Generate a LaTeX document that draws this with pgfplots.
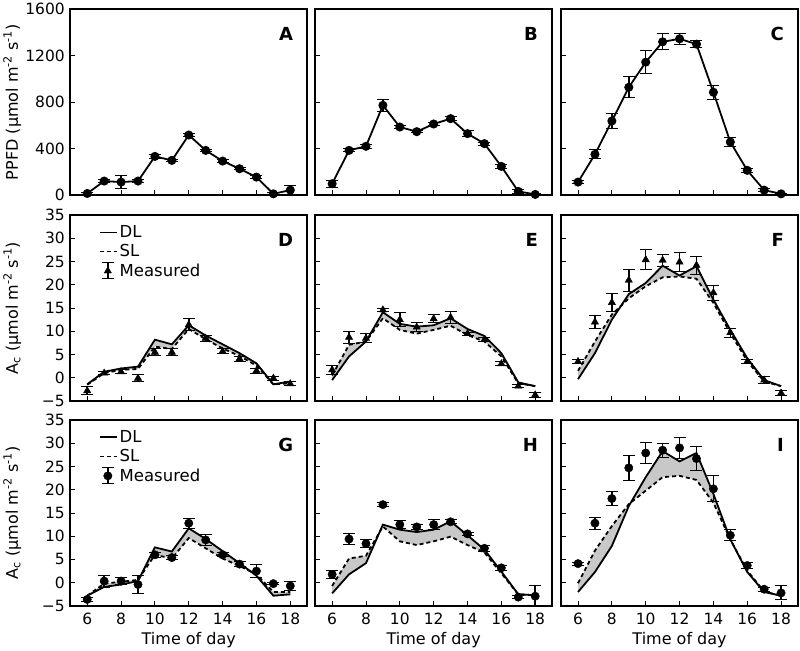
\documentclass[border=0pt]{standalone}
\usepackage{fontspec}
\setmainfont{DejaVu Sans}
\usepackage{pgfplots}
\pgfplotsset{compat=1.18}
\definecolor{fillgray}{RGB}{200,200,200}

\pgfplotsset{
  panel/.style={width=237pt,height=186pt,scale only axis,
    xmin=5,xmax=19,xtick={6,8,...,18},xticklabels={},
    tick align=inside,xtick pos=left,ytick pos=left,
    axis line style={line width=1.8pt},major tick length=5pt,
    every tick/.style={black,line width=0.9pt},
    tick label style={font=\fontsize{15.5}{16}\selectfont},
    xticklabel style={yshift=-4pt},yticklabel style={xshift=-2pt},
    label style={font=\fontsize{16}{17}\selectfont},
    ylabel style={at={(axis description cs:-0.245,0.5)},anchor=center}},
  ppfd/.style={panel,ymin=0,ymax=1600,ytick={0,400,...,1600},yticklabels={}},
  ac/.style={panel,ymin=-5,ymax=35,ytick={-5,0,...,35},yticklabels={}},
  acl/.style={yticklabels={−5,0,5,10,15,20,25,30,35}},
  bottomrow/.style={xticklabels={6,8,10,12,14,16,18},xlabel={Time of day}},
  ebars/.style={error bars/y dir=both,error bars/y explicit,
    error bars/error bar style={line width=1.5pt,black},
    error bars/error mark options={rotate=90,mark size=6pt,line width=1pt,black}},
  light/.style={black,line width=1.8pt,mark=*,mark size=3.6pt,ebars},
  meas/.style={black,only marks,mark=#1,mark size=4.2pt,ebars,
    legend image code/.code={
      \draw[black,line width=1.5pt] (8pt,-8pt) -- (8pt,8pt);
      \draw[black,line width=1pt] (2pt,-8pt) -- (14pt,-8pt) (2pt,8pt) -- (14pt,8pt);
      \begin{scope}[shift={(8pt,0pt)}]
      \pgfsetplotmarksize{4.2pt}\pgfuseplotmark{#1}
      \end{scope}}},
  band/.style={fill=fillgray,draw=none,forget plot},
  dl/.style={black,line width=1.8pt,
    legend image code/.code={\draw[black,line width=1.8pt] (0pt,0pt) -- (17pt,0pt);}},
  sl/.style={black,line width=1.8pt,dash pattern=on 4pt off 3pt,
    legend image code/.code={\draw[black,line width=1.8pt,dash pattern=on 4pt off 3pt] (0pt,0pt) -- (17pt,0pt);}},
  leg/.style={legend cell align=left,
    legend style={draw=none,fill=none,at={(0.12,0.955)},anchor=north west,
      font=\fontsize{16.5}{17.5}\selectfont,row sep=1.5pt,inner sep=0pt}},
}
\newcommand{\letter}[1]{\node[anchor=east,font=\fontsize{18}{18}\selectfont\bfseries] at (axis description cs:0.955,0.868) {#1};}

\begin{document}
\begin{tikzpicture}
\path (0pt,0pt) rectangle (800pt,-650pt);

% row 1: PPFD
\begin{axis}[ppfd,at={(70pt,-8pt)},anchor=north west,yticklabels={0,400,800,1200,1600},
  ylabel={PPFD (µmol m\textsuperscript{-2} s\textsuperscript{-1})}]
\addplot[light] coordinates {(6,14)+-(0,10) (7,121)+-(0,12) (8,112)+-(0,53) (9,121)+-(0,12) (10,333)+-(0,15) (11,299)+-(0,10) (12,517)+-(0,15) (13,385)+-(0,10) (14,293)+-(0,10) (15,227)+-(0,10) (16,155)+-(0,10) (17,11)+-(0,8) (18,43)+-(0,37)};
\letter{A}
\end{axis}

\begin{axis}[ppfd,at={(315pt,-8pt)},anchor=north west]
\addplot[light] coordinates {(6,98)+-(0,30) (7,385)+-(0,12) (8,420)+-(0,15) (9,773)+-(0,50) (10,586)+-(0,12) (11,546)+-(0,10) (12,612)+-(0,12) (13,658)+-(0,15) (14,529)+-(0,25) (15,443)+-(0,12) (16,247)+-(0,15) (17,32)+-(0,15) (18,6)+-(0,5)};
\letter{B}
\end{axis}

\begin{axis}[ppfd,at={(561pt,-8pt)},anchor=north west]
\addplot[light] coordinates {(6,112)+-(0,15) (7,351)+-(0,40) (8,638)+-(0,65) (9,928)+-(0,90) (10,1144)+-(0,100) (11,1319)+-(0,70) (12,1345)+-(0,50) (13,1299)+-(0,30) (14,885)+-(0,60) (15,457)+-(0,40) (16,213)+-(0,20) (17,43)+-(0,15) (18,11)+-(0,5)};
\letter{C}
\end{axis}

% row 2: Ac, triangles; band = DL forward, SL backward
\begin{axis}[ac,acl,leg,at={(70pt,-214pt)},anchor=north west,
  ylabel={A\textsubscript{c} (µmol m\textsuperscript{-2} s\textsuperscript{-1})}]
\addplot[band] coordinates {(6,-1.4) (7,1.3) (8,2.0) (9,2.4) (10,8.2) (11,7.2) (12,11.3) (13,9.1) (14,7.2) (15,5.3) (16,3.1) (17,-1.4) (18,-0.8)
  (18,-1.2) (17,-1.4) (16,2.6) (15,4.7) (14,6.3) (13,8.3) (12,10.5) (11,6.2) (10,6.7) (9,1.9) (8,1.7) (7,1.0) (6,-1.5)};
\addplot[dl] coordinates {(6,-1.4) (7,1.3) (8,2.0) (9,2.4) (10,8.2) (11,7.2) (12,11.3) (13,9.1) (14,7.2) (15,5.3) (16,3.1) (17,-1.4) (18,-0.8)};
\addlegendentry{DL}
\addplot[sl] coordinates {(6,-1.5) (7,1.0) (8,1.7) (9,1.9) (10,6.7) (11,6.2) (12,10.5) (13,8.3) (14,6.3) (15,4.7) (16,2.6) (17,-1.4) (18,-1.2)};
\addlegendentry{SL}
\addplot[meas=triangle*] coordinates {(6,-2.8)+-(0,0.9) (7,1.0)+-(0,0.3) (8,1.3)+-(0,0.4) (9,-0.1)+-(0,0.7) (10,5.5)+-(0,0.7) (11,5.5)+-(0,0.7) (12,11.4)+-(0,1.3) (13,8.5)+-(0,0.6) (14,5.7)+-(0,0.5) (15,4.1)+-(0,0.5) (16,1.5)+-(0,0.5) (17,-0.1)+-(0,0.4) (18,-1.3)+-(0,0.4)};
\addlegendentry{Measured}
\letter{D}
\end{axis}

\begin{axis}[ac,at={(315pt,-214pt)},anchor=north west]
\addplot[band] coordinates {(6,-0.5) (7,4.6) (8,7.8) (9,14.1) (10,11.6) (11,11.0) (12,11.3) (13,12.8) (14,10.5) (15,9.0) (16,5.3) (17,-1.0) (18,-1.8)
  (18,-1.8) (17,-1.2) (16,4.6) (15,7.8) (14,9.2) (13,11.2) (12,10.3) (11,9.5) (10,10.3) (9,12.8) (8,7.8) (7,7.1) (6,0.5)};
\addplot[dl] coordinates {(6,-0.5) (7,4.6) (8,7.8) (9,14.1) (10,11.6) (11,11.0) (12,11.3) (13,12.8) (14,10.5) (15,9.0) (16,5.3) (17,-1.0) (18,-1.8)};
\addplot[sl] coordinates {(6,0.5) (7,7.1) (8,7.8) (9,12.8) (10,10.3) (11,9.5) (12,10.3) (13,11.2) (14,9.2) (15,7.8) (16,4.6) (17,-1.2) (18,-1.8)};
\addplot[meas=triangle*] coordinates {(6,1.7)+-(0,1.0) (7,8.7)+-(0,1.3) (8,8.5)+-(0,1.0) (9,14.6)+-(0,0.3) (10,12.5)+-(0,1.5) (11,10.9)+-(0,1.0) (12,12.7)+-(0,0.9) (13,13.0)+-(0,1.3) (14,9.5)+-(0,0.3) (15,8.2)+-(0,0.4) (16,3.0)+-(0,0.4) (17,-1.8)+-(0,0.3) (18,-3.7)+-(0,0.6)};
\letter{E}
\end{axis}

\begin{axis}[ac,at={(561pt,-214pt)},anchor=north west]
\addplot[band] coordinates {(6,-0.3) (7,5.3) (8,12.5) (9,18.0) (10,20.4) (11,24.1) (12,22.0) (13,24.0) (14,16.8) (15,10.3) (16,4.2) (17,-0.5) (18,-1.8)
  (18,-1.8) (17,-0.8) (16,3.6) (15,9.6) (14,16.1) (13,21.3) (12,21.8) (11,21.6) (10,19.7) (9,17.1) (8,13.6) (7,7.8) (6,1.5)};
\addplot[dl] coordinates {(6,-0.3) (7,5.3) (8,12.5) (9,18.0) (10,20.4) (11,24.1) (12,22.0) (13,24.0) (14,16.8) (15,10.3) (16,4.2) (17,-0.5) (18,-1.8)};
\addplot[sl] coordinates {(6,1.5) (7,7.8) (8,13.6) (9,17.1) (10,19.7) (11,21.6) (12,21.8) (13,21.3) (14,16.1) (15,9.6) (16,3.6) (17,-0.8) (18,-1.8)};
\addplot[meas=triangle*] coordinates {(6,3.5)+-(0,0.5) (7,12.0)+-(0,1.3) (8,16.2)+-(0,2.0) (9,21.0)+-(0,2.4) (10,25.4)+-(0,2.1) (11,25.3)+-(0,1.3) (12,24.9)+-(0,2.0) (13,24.2)+-(0,2.0) (14,18.3)+-(0,1.6) (15,9.7)+-(0,1.0) (16,3.5)+-(0,0.5) (17,-0.5)+-(0,0.8) (18,-3.3)+-(0,0.6)};
\letter{F}
\end{axis}

% row 3: Ac, circles
\begin{axis}[ac,acl,leg,bottomrow,at={(70pt,-419pt)},anchor=north west,
  ylabel={A\textsubscript{c} (µmol m\textsuperscript{-2} s\textsuperscript{-1})}]
\addplot[band] coordinates {(6,-2.8) (7,-0.9) (8,-0.4) (9,0.35) (10,7.6) (11,6.7) (12,11.7) (13,9.4) (14,6.8) (15,4.2) (16,1.5) (17,-2.8) (18,-2.5)
  (18,-2.0) (17,-2.0) (16,1.8) (15,3.6) (14,5.2) (13,7.4) (12,9.6) (11,5.2) (10,6.0) (9,0.6) (8,0.2) (7,-0.2) (6,-2.8)};
\addplot[dl] coordinates {(6,-2.8) (7,-0.9) (8,-0.4) (9,0.35) (10,7.6) (11,6.7) (12,11.7) (13,9.4) (14,6.8) (15,4.2) (16,1.5) (17,-2.8) (18,-2.5)};
\addlegendentry{DL}
\addplot[sl] coordinates {(6,-2.8) (7,-0.2) (8,0.2) (9,0.6) (10,6.0) (11,5.2) (12,9.6) (13,7.4) (14,5.2) (15,3.6) (16,1.8) (17,-2.0) (18,-2.0)};
\addlegendentry{SL}
\addplot[meas=*] coordinates {(6,-3.6)+-(0,0.5) (7,0.35)+-(0,1.3) (8,0.35)+-(0,0.7) (9,-0.4)+-(0,2.0) (10,6.0)+-(0,0.5) (11,5.4)+-(0,0.4) (12,12.8)+-(0,1.1) (13,9.2)+-(0,1.1) (14,6.0)+-(0,0.4) (15,4.0)+-(0,0.5) (16,2.5)+-(0,1.4) (17,-0.2)+-(0,0.2) (18,-0.7)+-(0,0.9)};
\addlegendentry{Measured}
\letter{G}
\end{axis}

\begin{axis}[ac,bottomrow,at={(315pt,-419pt)},anchor=north west]
\addplot[band] coordinates {(6,-2.3) (7,1.8) (8,4.2) (9,12.5) (10,11.4) (11,10.9) (12,11.4) (13,13.2) (14,10.2) (15,7.1) (16,2.4) (17,-2.5) (18,-2.7)
  (18,-2.7) (17,-2.5) (16,2.0) (15,6.5) (14,8.1) (13,9.9) (12,8.9) (11,8.1) (10,8.9) (9,12.1) (8,5.8) (7,5.2) (6,-0.7)};
\addplot[dl] coordinates {(6,-2.3) (7,1.8) (8,4.2) (9,12.5) (10,11.4) (11,10.9) (12,11.4) (13,13.2) (14,10.2) (15,7.1) (16,2.4) (17,-2.5) (18,-2.7)};
\addplot[sl] coordinates {(6,-0.7) (7,5.2) (8,5.8) (9,12.1) (10,8.9) (11,8.1) (12,8.9) (13,9.9) (14,8.1) (15,6.5) (16,2.0) (17,-2.5) (18,-2.7)};
\addplot[meas=*] coordinates {(6,1.8)+-(0,0.8) (7,9.4)+-(0,1.1) (8,8.4)+-(0,0.8) (9,16.8)+-(0,0.4) (10,12.5)+-(0,0.8) (11,12.0)+-(0,0.5) (12,12.5)+-(0,1.1) (13,13.1)+-(0,0.4) (14,10.5)+-(0,0.3) (15,7.4)+-(0,0.7) (16,3.2)+-(0,0.5) (17,-3.1)+-(0,0.4) (18,-2.9)+-(0,2.2)};
\letter{H}
\end{axis}

\begin{axis}[ac,bottomrow,at={(561pt,-419pt)},anchor=north west]
\addplot[band] coordinates {(6,-2.0) (7,2.3) (8,7.9) (9,16.5) (10,22.7) (11,28.3) (12,26.1) (13,27.9) (14,19.1) (15,9.3) (16,2.3) (17,-2.0) (18,-2.8)
  (18,-2.8) (17,-1.9) (16,2.6) (15,9.3) (14,17.2) (13,22.1) (12,23.0) (11,22.7) (10,19.8) (9,16.9) (8,12.2) (7,6.9) (6,-0.1)};
\addplot[dl] coordinates {(6,-2.0) (7,2.3) (8,7.9) (9,16.5) (10,22.7) (11,28.3) (12,26.1) (13,27.9) (14,19.1) (15,9.3) (16,2.3) (17,-2.0) (18,-2.8)};
\addplot[sl] coordinates {(6,-0.1) (7,6.9) (8,12.2) (9,16.9) (10,19.8) (11,22.7) (12,23.0) (13,22.1) (14,17.2) (15,9.3) (16,2.6) (17,-1.9) (18,-2.8)};
\addplot[meas=*] coordinates {(6,4.1)+-(0,0.3) (7,12.8)+-(0,1.3) (8,18.1)+-(0,1.5) (9,24.7)+-(0,2.7) (10,27.9)+-(0,2.2) (11,28.5)+-(0,1.5) (12,29.0)+-(0,2.3) (13,26.7)+-(0,2.6) (14,20.2)+-(0,2.8) (15,10.2)+-(0,1.2) (16,3.7)+-(0,0.7) (17,-1.4)+-(0,0.4) (18,-2.2)+-(0,1.5)};
\letter{I}
\end{axis}
\end{tikzpicture}
\end{document}
